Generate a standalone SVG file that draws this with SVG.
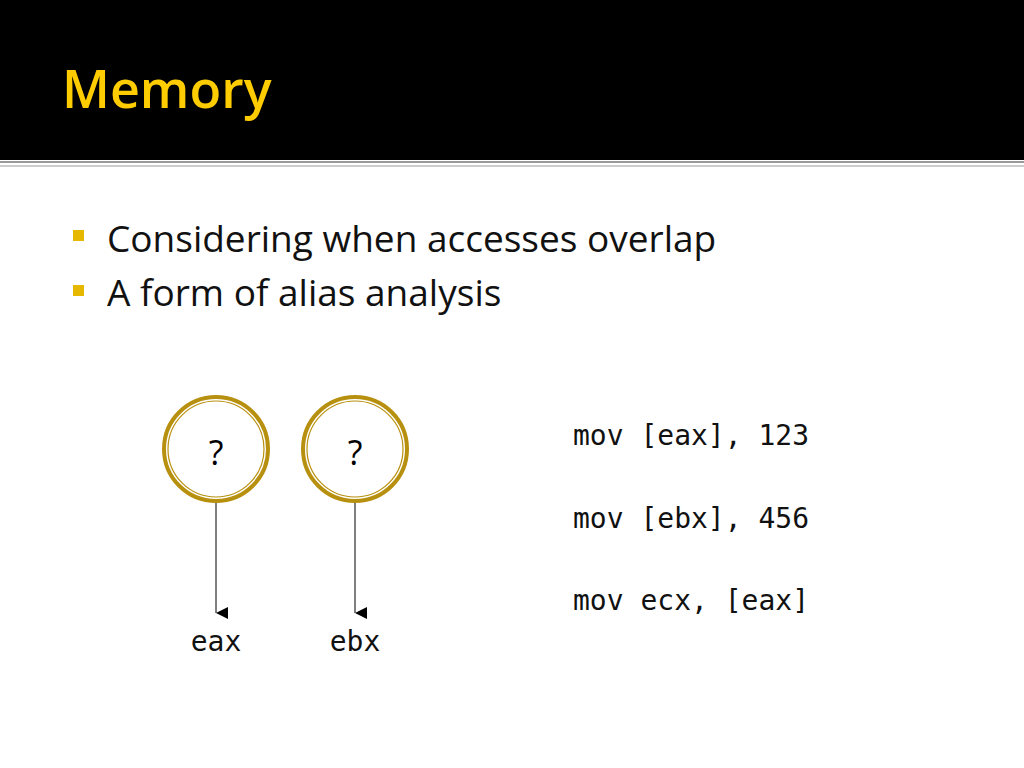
<svg xmlns="http://www.w3.org/2000/svg" width="1024" height="768" viewBox="0 0 1024 768">
<style>
.ring{fill:#fff;stroke:#B8900F;stroke-width:4}
.inner{fill:none;stroke:#B8900F;stroke-width:1.2}
.q{font-family:"Open Sans","DejaVu Sans",sans-serif;font-size:34px;fill:#000;text-anchor:middle}
.mono{font-family:"DejaVu Sans Mono","Liberation Mono",monospace;font-size:28px;fill:#111}
.body{font-family:"Open Sans","Noto Sans",sans-serif;font-size:37px;fill:#111}
.ln{stroke:#000;stroke-width:1}
</style>
<defs><marker id="ah" markerWidth="12" markerHeight="12" refX="6" refY="12" orient="auto" markerUnits="userSpaceOnUse"><path d="M0,0 L12,0 L6,12 Z" fill="#000"/></marker></defs>
<rect width="1024" height="768" fill="#fff"/>
<rect width="1024" height="160" fill="#000"/>
<rect y="161" width="1024" height="2" fill="#999"/>
<rect y="165" width="1024" height="2" fill="#ccc"/>
<text x="62" y="108" font-family="Open Sans,sans-serif" font-weight="600" font-size="52" fill="#FFCC00">Memory</text>
<rect x="73" y="230" width="11" height="11" fill="#E6B800"/>
<rect x="73" y="285" width="11" height="11" fill="#E6B800"/>
<text x="107" y="252" class="body">Considering when accesses overlap</text>
<text x="107" y="306" class="body">A form of alias analysis</text>
<g id="n1"><circle cx="216" cy="449" r="52" class="ring"/><circle cx="216" cy="449" r="48" class="inner"/><text x="216" y="465" class="q">?</text></g>
<g id="n2"><circle cx="355" cy="449" r="52" class="ring"/><circle cx="355" cy="449" r="48" class="inner"/><text x="355" y="465" class="q">?</text></g>
<g id="connectors">
<line x1="216" y1="503" x2="216" y2="613" class="ln" marker-end="url(#ah)"/>
<line x1="355" y1="503" x2="355" y2="613" class="ln" marker-end="url(#ah)"/>
</g>
<text x="216" y="651" class="mono" text-anchor="middle">eax</text>
<text x="355" y="651" class="mono" text-anchor="middle">ebx</text>
<text x="573" y="445" class="mono">mov [eax], 123</text>
<text x="573" y="528" class="mono">mov [ebx], 456</text>
<text x="573" y="610" class="mono">mov ecx, [eax]</text>
</svg>
